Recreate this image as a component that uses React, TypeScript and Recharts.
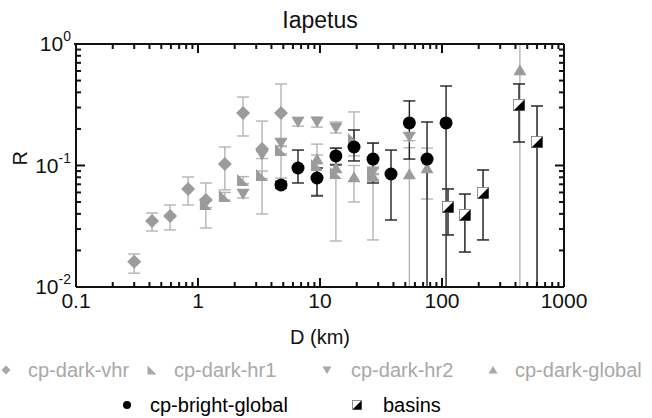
import React from "react";
import { ScatterChart, Scatter, XAxis, YAxis, ErrorBar } from "recharts";

const GRAY = "#9b9b9b";
const GRAY_ERR = "#b4b4b4";
const LEGEND_GRAY = "#a8a8a8";
const FONT = "'Liberation Sans', Arial, Helvetica, sans-serif";

// cp-dark-vhr
const VHR_D = [0.3, 0.42, 0.59, 0.83, 1.16, 1.66, 2.34, 3.35, 4.79];
const VHR_R = [0.0161, 0.0349, 0.0384, 0.0641, 0.052, 0.103, 0.27, 0.137, 0.27];
const VHR_LO = [0.013, 0.0289, 0.0295, 0.0473, 0.0306, 0.063, 0.175, 0.0399, 0.0789];
const VHR_HI = [0.0187, 0.0407, 0.0473, 0.0804, 0.0718, 0.142, 0.366, 0.232, 0.469];

// cp-dark-hr1
const HR1_D = [1.16, 1.66, 2.34, 3.35, 4.79, 9.45, 13.5, 19.0, 27.2];
const HR1_R = [0.0482, 0.0561, 0.076, 0.0835, 0.134, 0.101, 0.0867, 0.165, 0.0851];
const HR1_LO = [0.045, 0.052, 0.071, 0.078, 0.125, 0.0572, 0.0239, 0.12, 0.0244];
const HR1_HI = [0.052, 0.06, 0.081, 0.09, 0.145, 0.15, 0.139, 0.276, 0.153];

// cp-dark-hr2
const HR2_D = [2.34, 3.35, 4.79, 6.6, 9.45, 13.5, 27.2, 54];
const HR2_R = [0.0582, 0.122, 0.153, 0.228, 0.228, 0.204, 0.089, 0.172];
const HR2_LO = [0.054, 0.114, 0.143, 0.211, 0.207, 0.185, 0.084, 0.16];
const HR2_HI = [0.063, 0.13, 0.163, 0.248, 0.25, 0.228, 0.094, 0.185];

// cp-dark-global
const GLB_D = [9.45, 13.5, 19.0, 27.2, 54, 75.4, 435];
const GLB_R = [0.113, 0.0954, 0.0804, 0.081, 0.0851, 0.0954, 0.611];
const GLB_LO = [0.104, 0.088, 0.0501, 0.076, 0.01, 0.053, 0.01];
const GLB_HI = [0.122, 0.103, 0.1, 0.086, 0.14, 0.139, 1];

// cp-bright-global
const BRT_D = [4.79, 6.6, 9.45, 13.5, 19.0, 27.2, 38.2, 54, 75.4, 108];
const BRT_R = [0.0691, 0.0954, 0.0789, 0.12, 0.142, 0.113, 0.0851, 0.224, 0.113, 0.224];
const BRT_LO = [0.065, 0.0718, 0.0561, 0.101, 0.109, 0.0718, 0.0356, 0.113, 0.01, 0.01];
const BRT_HI = [0.074, 0.134, 0.0954, 0.139, 0.196, 0.153, 0.134, 0.34, 0.228, 0.451];

// basins
const BAS_D = [112, 154, 217, 428, 601];
const BAS_R = [0.0455, 0.0392, 0.0594, 0.315, 0.156];
const BAS_LO = [0.0268, 0.0194, 0.0244, 0.156, 0.01];
const BAS_HI = [0.0641, 0.0582, 0.0918, 0.469, 0.309];

const X_DOMAIN = [0.1, 1000];
const Y_DOMAIN = [0.01, 1];
const X_TICKS = [
  0.1, 0.2, 0.3, 0.4, 0.5, 0.6, 0.7, 0.8, 0.9,
  1, 2, 3, 4, 5, 6, 7, 8, 9,
  10, 20, 30, 40, 50, 60, 70, 80, 90,
  100, 200, 300, 400, 500, 600, 700, 800, 900, 1000,
];
const X_LABELS: Record<string, string> = { "0.1": "0.1", "1": "1", "10": "10", "100": "100", "1000": "1000" };
const Y_TICKS = [
  0.01, 0.02, 0.03, 0.04, 0.05, 0.06, 0.07, 0.08, 0.09,
  0.1, 0.2, 0.3, 0.4, 0.5, 0.6, 0.7, 0.8, 0.9, 1,
];
const Y_LABELS: Record<string, string> = { "1": "0", "0.1": "-1", "0.01": "-2" };

const SERIES_NAMES = ["cp-dark-vhr", "cp-dark-hr1", "cp-dark-hr2", "cp-dark-global", "cp-bright-global", "basins"];

function rows(d: number[], r: number[], lo: number[], hi: number[]) {
  return d.map((x, i) => ({ x, y: r[i], err: [r[i] - lo[i], hi[i] - r[i]] }));
}

const isMajor = (v: number) => Math.abs(Math.log10(v) - Math.round(Math.log10(v))) < 1e-6;

// marker shapes
function Diamond({ cx, cy, s = 7, fill = GRAY }: any) {
  return <polygon points={`${cx},${cy - s} ${cx + s},${cy} ${cx},${cy + s} ${cx - s},${cy}`} fill={fill} />;
}
function CornerTri({ cx, cy, s = 6, fill = GRAY }: any) {
  return <polygon points={`${cx - s},${cy - s} ${cx - s},${cy + s} ${cx + s},${cy + s}`} fill={fill} />;
}
function DownTri({ cx, cy, s = 6.5, fill = GRAY }: any) {
  return <polygon points={`${cx - s},${cy - s * 0.8} ${cx + s},${cy - s * 0.8} ${cx},${cy + s * 0.9}`} fill={fill} />;
}
function UpTri({ cx, cy, s = 6.5, fill = GRAY }: any) {
  return <polygon points={`${cx - s},${cy + s * 0.8} ${cx + s},${cy + s * 0.8} ${cx},${cy - s * 0.9}`} fill={fill} />;
}
function Dot({ cx, cy, s = 6.5 }: any) {
  return <circle cx={cx} cy={cy} r={s} fill="#000" />;
}
function HalfSquare({ cx, cy, s = 5.5 }: any) {
  return (
    <g>
      <rect x={cx - s} y={cy - s} width={2 * s} height={2 * s} fill="#fff" stroke="#777" strokeWidth={0.8} />
      <polygon points={`${cx + s},${cy - s} ${cx + s},${cy + s} ${cx - s},${cy + s}`} fill="#000" />
    </g>
  );
}

// inward tick marks as thin filled bars, placed by the chart scales
const tickLen = (v: number) => (isMajor(v) ? 9 : 5);
function TickUp({ cx, cy, payload }: any) {
  const l = tickLen(payload?.x ?? 2);
  return <rect x={cx - 1} y={cy - l} width={2} height={l} fill="#111" />;
}
function TickDown({ cx, cy, payload }: any) {
  const l = tickLen(payload?.x ?? 2);
  return <rect x={cx - 1} y={cy} width={2} height={l} fill="#111" />;
}
function TickRight({ cx, cy, payload }: any) {
  const l = tickLen(payload?.y ?? 2);
  return <rect x={cx} y={cy - 1} width={l} height={2} fill="#111" />;
}
function TickLeft({ cx, cy, payload }: any) {
  const l = tickLen(payload?.y ?? 2);
  return <rect x={cx - l} y={cy - 1} width={l} height={2} fill="#111" />;
}
// top and right sides of the box, drawn from the corner points of the domain
function TopEdge({ cx, cy }: any) {
  return <rect x={cx - 490} y={cy - 1} width={490} height={2} fill="#111" />;
}

const SYMBOLS = [Diamond, CornerTri, DownTri, UpTri, Dot, HalfSquare];
const LEGEND_POS = [
  { sx: 6, tx: 28, row: 0, color: LEGEND_GRAY },
  { sx: 152, tx: 174, row: 0, color: LEGEND_GRAY },
  { sx: 327, tx: 351, row: 0, color: LEGEND_GRAY },
  { sx: 493, tx: 515, row: 0, color: LEGEND_GRAY },
  { sx: 127, tx: 150, row: 1, color: "#000" },
  { sx: 357, tx: 383, row: 1, color: "#000" },
];

function ChartLegend() {
  return (
    <div style={{ position: "absolute", left: 0, top: 348, width: 652, height: 70, fontFamily: FONT, fontSize: 20 }}>
      {SERIES_NAMES.map((name, idx) => {
        const pos = LEGEND_POS[idx];
        const Sym = SYMBOLS[idx];
        const cy = pos.row === 0 ? 22 : 57;
        return (
          <React.Fragment key={name}>
            <svg style={{ position: "absolute", left: pos.sx - 8, top: cy - 8 }} width={16} height={16}>
              <Sym cx={8} cy={8} s={idx === 4 ? 4 : 4.5} fill={pos.color} />
            </svg>
            <span style={{ position: "absolute", left: pos.tx, top: cy - 12, lineHeight: "24px", color: pos.color, whiteSpace: "nowrap" }}>
              {name}
            </span>
          </React.Fragment>
        );
      })}
    </div>
  );
}

function BottomLabel(props: any) {
  const { x, y, payload } = props;
  const label = X_LABELS[String(payload.value)];
  if (!label) return <g />;
  return (
    <text x={x} y={y + 21} textAnchor="middle" fontSize={21} fontFamily={FONT} fill="#111">
      {label}
    </text>
  );
}
function LeftLabel(props: any) {
  const { x, y, payload } = props;
  const sup = Y_LABELS[String(payload.value)];
  if (!sup) return <g />;
  return (
    <text x={x - 5} y={y + 7} textAnchor="end" fontSize={21} fontFamily={FONT} fill="#111">
      <tspan>10</tspan>
      <tspan dy={-10} fontSize={14}>{sup}</tspan>
    </text>
  );
}

const frame = { stroke: "#111", strokeWidth: 2 };

export default function App() {
  const vhr = rows(VHR_D, VHR_R, VHR_LO, VHR_HI);
  const hr1 = rows(HR1_D, HR1_R, HR1_LO, HR1_HI);
  const hr2 = rows(HR2_D, HR2_R, HR2_LO, HR2_HI);
  const glb = rows(GLB_D, GLB_R, GLB_LO, GLB_HI);
  const brt = rows(BRT_D, BRT_R, BRT_LO, BRT_HI);
  const bas = rows(BAS_D, BAS_R, BAS_LO, BAS_HI);

  const [xMin, xMax] = X_DOMAIN;
  const [yMin, yMax] = Y_DOMAIN;
  const bottomTicks = X_TICKS.map((x) => ({ x, y: yMin }));
  const topTicks = X_TICKS.map((x) => ({ x, y: yMax }));
  const leftTicks = Y_TICKS.map((y) => ({ x: xMin, y }));
  const rightTicks = Y_TICKS.map((y) => ({ x: xMax, y }));
  const rightEdge = [{ x: xMax, y: yMin, ey: [0, yMax - yMin] }];
  const topCorner = [{ x: xMax, y: yMax }];

  return (
    <div style={{ position: "absolute", left: 0, top: 0, width: 652, height: 418, fontFamily: FONT }}>
      <div style={{ position: "absolute", left: 0, top: 6, width: 640, textAlign: "center", fontSize: 23, lineHeight: "28px", color: "#111" }}>
        Iapetus
      </div>
      <ScatterChart width={652} height={418} margin={{ top: 44, right: 88, bottom: 70, left: 0 }}>
        <XAxis
          xAxisId="b"
          type="number"
          dataKey="x"
          scale="log"
          domain={X_DOMAIN}
          ticks={X_TICKS}
          interval={0}
          tick={<BottomLabel />}
          tickSize={0}
          tickMargin={0}
          tickLine={false}
          axisLine={frame}
          height={61}
          label={{ value: "D (km)", position: "insideBottom", offset: 4, fontSize: 20, fill: "#111", fontFamily: FONT }}
        />
        <YAxis
          yAxisId="l"
          type="number"
          dataKey="y"
          scale="log"
          domain={Y_DOMAIN}
          ticks={Y_TICKS}
          interval={0}
          tick={<LeftLabel />}
          tickSize={0}
          tickMargin={0}
          tickLine={false}
          axisLine={frame}
          width={76}
          label={{ value: "R", angle: -90, position: "insideLeft", offset: 20, fontSize: 20, fill: "#111", fontFamily: FONT }}
        />

        <Scatter name="cp-dark-vhr" data={vhr} xAxisId="b" yAxisId="l" fill={GRAY} shape={(p: any) => <Diamond {...p} />} isAnimationActive={false}>
          <ErrorBar dataKey="err" direction="y" width={6} stroke={GRAY_ERR} strokeWidth={1.4} isAnimationActive={false} />
        </Scatter>
        <Scatter name="cp-dark-hr1" data={hr1} xAxisId="b" yAxisId="l" fill={GRAY} shape={(p: any) => <CornerTri {...p} />} isAnimationActive={false}>
          <ErrorBar dataKey="err" direction="y" width={6} stroke={GRAY_ERR} strokeWidth={1.4} isAnimationActive={false} />
        </Scatter>
        <Scatter name="cp-dark-hr2" data={hr2} xAxisId="b" yAxisId="l" fill={GRAY} shape={(p: any) => <DownTri {...p} />} isAnimationActive={false}>
          <ErrorBar dataKey="err" direction="y" width={6} stroke={GRAY_ERR} strokeWidth={1.4} isAnimationActive={false} />
        </Scatter>
        <Scatter name="cp-dark-global" data={glb} xAxisId="b" yAxisId="l" fill={GRAY} shape={(p: any) => <UpTri {...p} />} isAnimationActive={false}>
          <ErrorBar dataKey="err" direction="y" width={6} stroke={GRAY_ERR} strokeWidth={1.4} isAnimationActive={false} />
        </Scatter>
        <Scatter name="cp-bright-global" data={brt} xAxisId="b" yAxisId="l" fill="#000" shape={(p: any) => <Dot {...p} />} isAnimationActive={false}>
          <ErrorBar dataKey="err" direction="y" width={6} stroke="#222" strokeWidth={1.4} isAnimationActive={false} />
        </Scatter>
        <Scatter name="basins" data={bas} xAxisId="b" yAxisId="l" fill="#000" shape={(p: any) => <HalfSquare {...p} />} isAnimationActive={false}>
          <ErrorBar dataKey="err" direction="y" width={6} stroke="#333" strokeWidth={1.6} isAnimationActive={false} />
        </Scatter>

        <Scatter name="ticks-bottom" data={bottomTicks} xAxisId="b" yAxisId="l" fill="#111" shape={(p: any) => <TickUp {...p} />} isAnimationActive={false} />
        <Scatter name="ticks-top" data={topTicks} xAxisId="b" yAxisId="l" fill="#111" shape={(p: any) => <TickDown {...p} />} isAnimationActive={false} />
        <Scatter name="ticks-left" data={leftTicks} xAxisId="b" yAxisId="l" fill="#111" shape={(p: any) => <TickRight {...p} />} isAnimationActive={false} />
        <Scatter name="ticks-right" data={rightTicks} xAxisId="b" yAxisId="l" fill="#111" shape={(p: any) => <TickLeft {...p} />} isAnimationActive={false} />
        <Scatter name="edge-top" data={topCorner} xAxisId="b" yAxisId="l" fill="#111" shape={(p: any) => <TopEdge {...p} />} isAnimationActive={false} />
        <Scatter name="edge-right" data={rightEdge} xAxisId="b" yAxisId="l" fill="#111" shape={() => <g />} isAnimationActive={false}>
          <ErrorBar dataKey="ey" direction="y" width={0} stroke="#111" strokeWidth={2} isAnimationActive={false} />
        </Scatter>
      </ScatterChart>
      <ChartLegend />
    </div>
  );
}
